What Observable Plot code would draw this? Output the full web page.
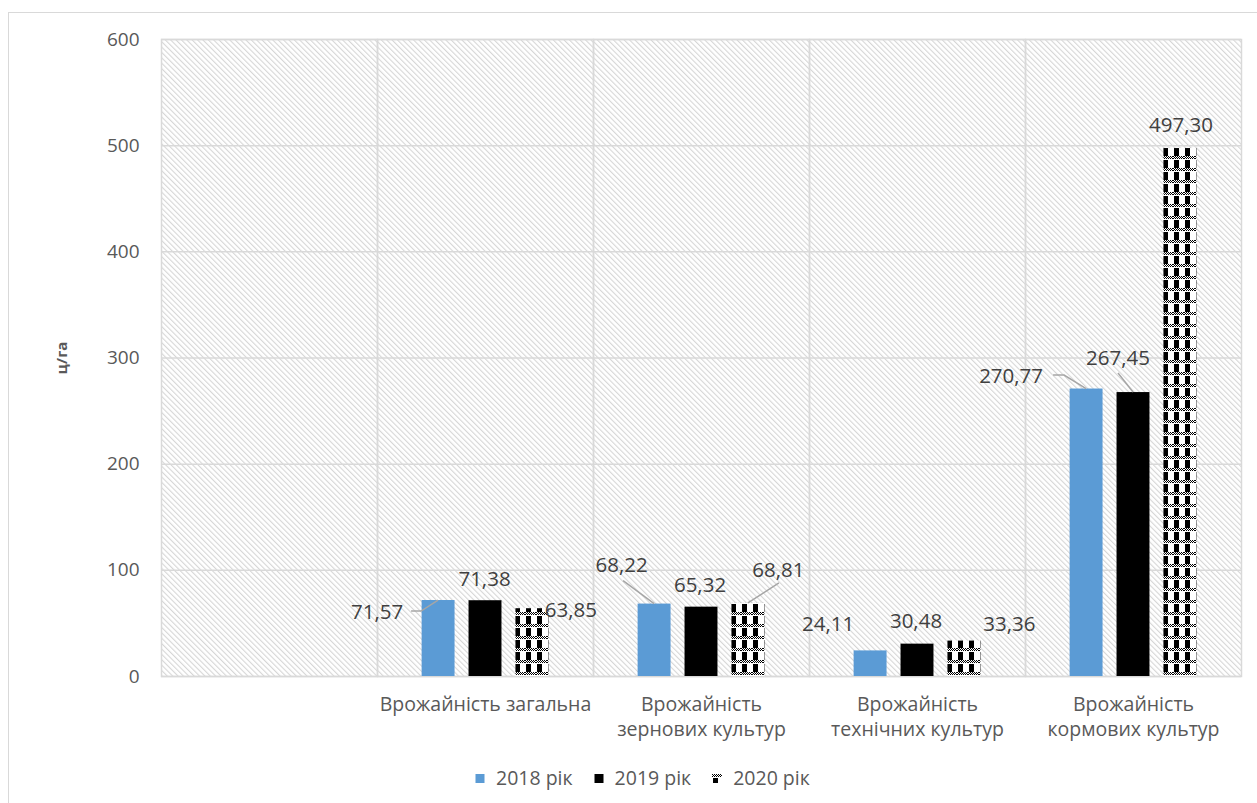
<!DOCTYPE html>
<html>
<head>
<meta charset="utf-8">
<script src="https://cdn.jsdelivr.net/npm/d3@7"></script>
<script src="https://cdn.jsdelivr.net/npm/@observablehq/plot@0.6"></script>
<style>
  body { margin: 0; background: #fff; font-family: "Open Sans", sans-serif; }
  #wrap { position: relative; width: 1257px; height: 803px; overflow: hidden; }
  #border { position: absolute; left: 8px; top: 12px; width: 1400px; height: 1000px; border: 1.5px solid #d9d9d9; }
  #chart { position: absolute; left: 0; top: 0; }
  #legend { position: absolute; top: 765px; left: 475px; display: flex; align-items: center; font-size: 19.5px; color: #595959; line-height: 26px; }
  #legend .item { display: flex; align-items: center; margin-right: 21px; }
  #legend svg { margin-right: 11px; }
</style>
</head>
<body>
<div id="wrap">
  <div id="border"></div>
  <div id="chart"></div>
  <div id="legend"></div>
</div>
<script>
// Crop yield by group of crops, centners per hectare
const categories = ["", "Врожайність загальна", "Врожайність\nзернових культур", "Врожайність\nтехнічних культур", "Врожайність\nкормових культур"];
const years = ["2018 рік", "2019 рік", "2020 рік"];
const yield2018 = [null, 71.57, 68.22, 24.11, 270.77];
const yield2019 = [null, 71.38, 65.32, 30.48, 267.45];
const yield2020 = [null, 63.85, 68.81, 33.36, 497.30];
const yTicks = [0, 100, 200, 300, 400, 500, 600];

const series = [yield2018, yield2019, yield2020];
const rows = [];
categories.forEach((c, i) => years.forEach((y, j) => rows.push({category: c, year: y, value: series[j][i], ci: i, yi: j})));

// Value-label placement around each bar top: [category, year, dx, dy, leader polyline]
const labelLayout = [
  [1, 0, -61.5, 12, [[-27, 11], [-17, 11], [0, 0]]],
  [1, 1, -1, -21],
  [1, 2, 38.5, 2],
  [2, 0, -33, -38.6, [[-31, -23], [0, 0]]],
  [2, 1, -1.5, -21.6],
  [2, 2, 30, -33, [[31, -20], [0, 0]]],
  [3, 0, -42.5, -26.4],
  [3, 1, -1.5, -22.6],
  [3, 2, 45, -16.6],
  [4, 0, -75.5, -12.5, [[-33, -13.5], [-22, -13.5], [0, 0]]],
  [4, 1, -15.5, -34, [[-15, -19], [0, 0]]],
  [4, 2, 0.5, -23]
];

const fmt = v => v.toFixed(2).replace(".", ",");
const rowAt = (ci, yi) => rows.find(r => r.ci === ci && r.yi === yi);

const labelMarks = labelLayout.map(([ci, yi, dx, dy]) =>
  Plot.text([rowAt(ci, yi)], {
    fx: "category", x: "year", y: "value", text: d => fmt(d.value),
    dx, dy, fontSize: 20.5, fill: "#404040"
  })
);

const leaderMarks = labelLayout.filter(l => l[4]).map(([ci, yi, , , pts]) =>
  Plot.dot([rowAt(ci, yi)], {
    fx: "category", x: "year", y: "value", r: 0,
    render(index, scales, values) {
      const bw = typeof scales.x.bandwidth === "function" ? scales.x.bandwidth() : 0;
      const g = d3.create("svg:g");
      for (const i of index) {
        const cx = values.x[i] + bw / 2, cy = values.y[i];
        g.append("path")
          .attr("d", d3.line()(pts.map(([px, py]) => [cx + px, cy + py])))
          .attr("fill", "none").attr("stroke", "#a6a6a6").attr("stroke-width", 1.5);
      }
      return g.node();
    }
  })
);

const plot = Plot.plot({
  width: 1257,
  height: 760,
  marginTop: 39,
  marginLeft: 160,
  marginRight: 15,
  marginBottom: 84,
  style: {fontFamily: "Open Sans, sans-serif", fontSize: "19px", color: "#595959"},
  fx: {domain: categories, padding: 0},
  x: {domain: years, paddingInner: 0.298, paddingOuter: 0.951, round: false, axis: null},
  y: {domain: [0, 600], ticks: yTicks},
  color: {domain: years, range: ["#5b9bd5", "#000000", "url(#checker)"]},
  marks: [
    Plot.frame({fill: "url(#hatch)"}),
    Plot.gridY(yTicks, {stroke: "#d9d9d9", strokeOpacity: 1, strokeWidth: 1.5}),
    Plot.frame({stroke: "#d9d9d9", strokeWidth: 1.5}),
    Plot.barY(rows, {fx: "category", x: "year", y: "value", fill: "year"}),
    Plot.axisY(yTicks, {
      tickSize: 0, tickPadding: 22, fontSize: 19, fill: "#595959",
      label: "ц/га", labelAnchor: "center", labelArrow: "none", labelOffset: 105
    }),
    Plot.axisFx({anchor: "bottom", tickSize: 0, tickPadding: 16, fontSize: 19.5, lineHeight: 1.3, fill: "#595959", label: null}),
    ...leaderMarks,
    ...labelMarks
  ]
});

// Fill patterns: light diagonal hatch for the plot area, black/white check for 2020
const svg = d3.select(plot);
const defs = svg.insert("defs", ":first-child");
const hatch = defs.append("pattern").attr("id", "hatch").attr("patternUnits", "userSpaceOnUse")
  .attr("width", 3.8).attr("height", 3.8).attr("patternTransform", "rotate(-45)");
hatch.append("rect").attr("width", 3.8).attr("height", 3.8).attr("fill", "#ffffff");
hatch.append("rect").attr("width", 1.1).attr("height", 3.8).attr("fill", "#d6d6d6");

function checkerPattern(parent, id) {
  const w = 11, h = 12;
  const p = parent.append("pattern").attr("id", id).attr("patternUnits", "userSpaceOnUse").attr("width", w).attr("height", h);
  p.append("rect").attr("width", w).attr("height", h).attr("fill", "#ffffff");
  p.append("rect").attr("x", 1).attr("width", 5).attr("height", h).attr("fill", "#000000");
  for (let i = 0; i < w; i++) for (let j = 0; j < 3; j++)
    p.append("rect").attr("x", i).attr("y", j).attr("width", 1).attr("height", 1)
      .attr("fill", (i + j) % 2 ? "#ffffff" : "#000000");
  p.append("rect").attr("y", 3).attr("width", w).attr("height", 1).attr("fill", "#ffffff");
  return p;
}
checkerPattern(defs, "checker");

svg.selectAll('g[aria-label="y-axis label"] text').attr("font-weight", "bold").attr("font-size", 15).attr("fill", "#595959");

document.getElementById("chart").append(plot);

// Legend
const legend = d3.select("#legend");
years.forEach((y, j) => {
  const item = legend.append("div").attr("class", "item");
  const s = item.append("svg").attr("width", 10).attr("height", 9);
  if (j < 2) {
    s.append("rect").attr("x", 0.5).attr("y", 0).attr("width", 9).attr("height", 9).attr("fill", ["#5b9bd5", "#000000"][j]);
  } else {
    const d = s.append("defs");
    checkerPattern(d, "checkerLegend");
    s.append("rect").attr("width", 10).attr("height", 9).attr("fill", "url(#checkerLegend)");
  }
  item.append("span").text(y);
});
</script>
</body>
</html>
